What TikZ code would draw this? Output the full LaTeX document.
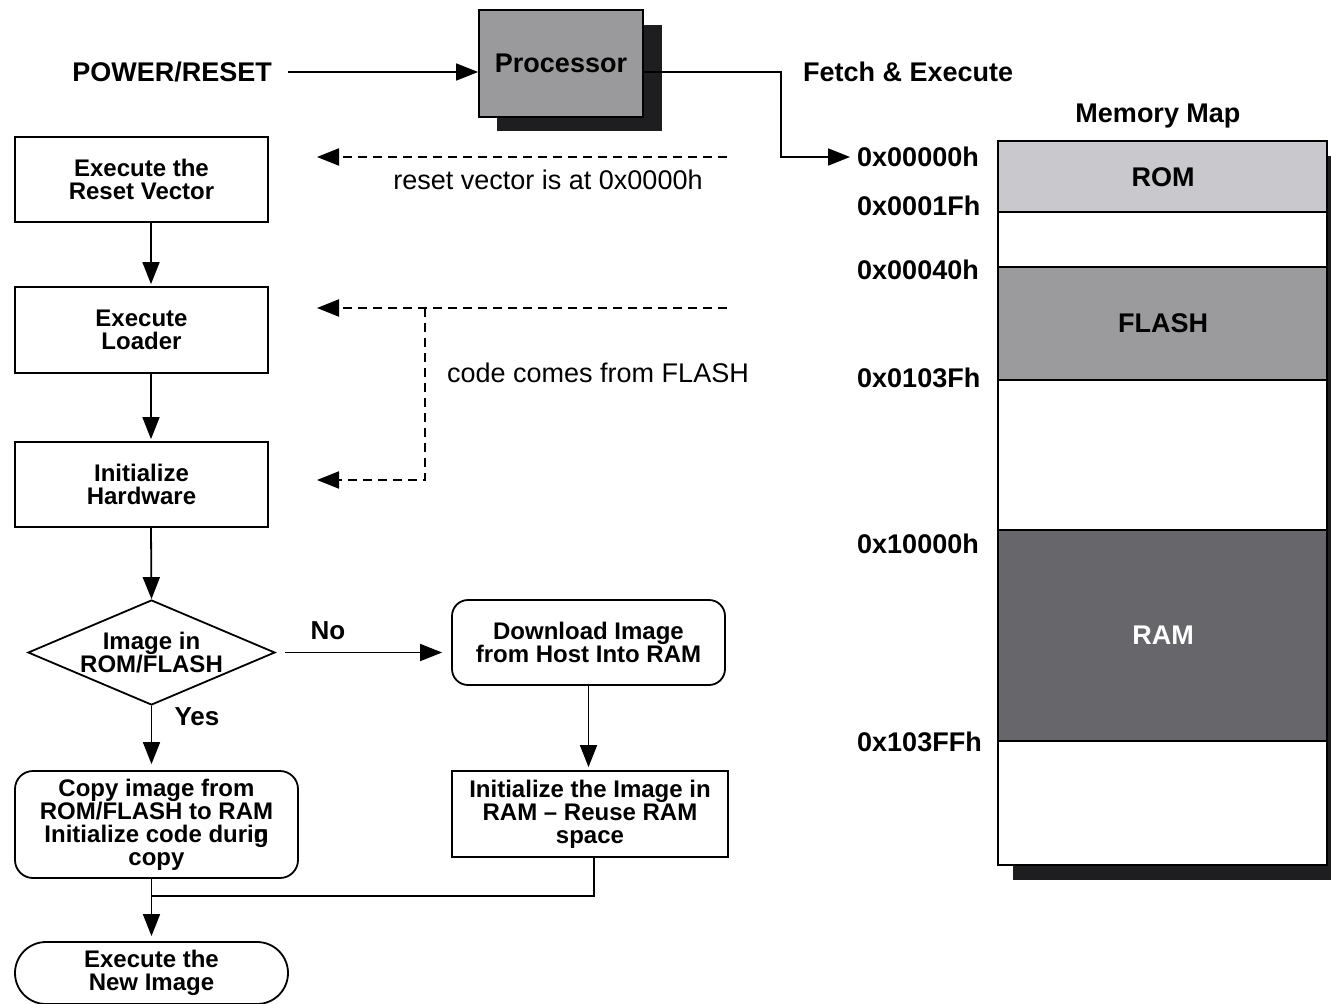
\documentclass[tikz,border=0pt]{standalone}
\usepackage{fontspec}
\setmainfont{Liberation Sans}
\usetikzlibrary{arrows.meta,shapes.geometric,calc}
\definecolor{procgray}{HTML}{9A9A9C}
\definecolor{shadowc}{HTML}{1E1E20}
\definecolor{romc}{HTML}{C8C8CD}
\definecolor{flashc}{HTML}{9B9B9E}
\definecolor{ramc}{HTML}{67666B}
\begin{document}
\begin{tikzpicture}[x=1pt,y=-1pt,
  lw/.style={line width=1.8pt},
  boxtxt/.style={font=\fontsize{24}{23}\selectfont\bfseries, align=center},
  yesno/.style={font=\fontsize{26}{26}\selectfont\bfseries, inner sep=0pt},
  bigtxt/.style={font=\fontsize{27}{27}\selectfont\bfseries, inner sep=0pt},
  plaintxt/.style={font=\fontsize{27}{27}\selectfont, inner sep=0pt},
  stepbox/.style={draw, lw, fill=white, boxtxt, inner sep=0pt},
  arr/.style={lw, -{Triangle[length=22pt,width=17pt]}},
  darr/.style={line width=2pt, dash pattern=on 9pt off 6pt, -{Triangle[length=22pt,width=17pt]}}
]
\fill[white] (0,0) rectangle (1331,1004);
\useasboundingbox (0,0) rectangle (1331,1004);

% processor block with its drop shadow
\fill[shadowc] (497,25) rectangle (662,131);
\node[draw, lw, fill=procgray, minimum width=164pt, minimum height=107pt, inner sep=0pt, bigtxt] (proc) at (561,63.5) {Processor};
\node[bigtxt, anchor=east] (pwr) at (272,72) {POWER/RESET};
\draw[arr] ([xshift=16pt]pwr.east) -- (pwr.east -| proc.west);
\node[bigtxt, anchor=west] (fetch) at (803,72) {Fetch \& Execute};

% memory map
\node[bigtxt] (mmt) at (1158,116) {Memory Map};
\fill[shadowc] (1013,156) rectangle (1345,880);
\fill[romc] (998,141) rectangle (1327,212);
\fill[white] (998,212) rectangle (1327,267);
\fill[flashc] (998,267) rectangle (1327,380);
\fill[white] (998,380) rectangle (1327,530);
\fill[ramc] (998,530) rectangle (1327,741);
\fill[white] (998,741) rectangle (1327,865);
\draw[lw] (998,141) rectangle (1327,865);
\foreach \yy in {212,267,380,530,741} \draw[lw] (998,\yy) -- (1327,\yy);
\node[bigtxt] (rom) at (1163,177) {ROM};
\node[bigtxt] (flash) at (1163,323) {FLASH};
\node[bigtxt, text=white] (ram) at (1163,635) {RAM};

\node[bigtxt, anchor=west] (a0) at (857,157) {0x00000h};
\node[bigtxt, anchor=west] (a1) at (857,206) {0x0001Fh};
\node[bigtxt, anchor=west] (a2) at (857,270) {0x00040h};
\node[bigtxt, anchor=west] (a3) at (857,378) {0x0103Fh};
\node[bigtxt, anchor=west] (a4) at (857,544) {0x10000h};
\node[bigtxt, anchor=west] (a5) at (857,742) {0x103FFh};

\draw[arr, shorten >=7pt] (proc.east |- pwr) -- ++(137,0) |- (a0.west);

% boot flow
\node[stepbox, minimum width=253pt, minimum height=85pt] (b1) at (141.5,179.5) {Execute the\\Reset Vector};
\node[stepbox, minimum width=253pt, minimum height=86pt] (b2) at (141.5,330) {Execute\\Loader};
\node[stepbox, minimum width=253pt, minimum height=85pt] (b3) at (141.5,484.5) {Initialize\\Hardware};
\draw[arr, shorten >=2pt] ([xshift=9.5pt]b1.south) -- ([xshift=9.5pt]b2.north);
\draw[arr, shorten >=2pt] ([xshift=9.5pt]b2.south) -- ([xshift=9.5pt]b3.north);

\node[draw, lw, fill=white, diamond, minimum width=247pt, minimum height=105pt, inner sep=0pt,
      label={[boxtxt]center:Image in\\ROM/FLASH}] (dec) at (151.5,652.5) {};
\draw[arr] ([xshift=9.5pt]b3.south) -- (dec.north);

\node[stepbox, rounded corners=16pt, minimum width=273pt, minimum height=85pt] (dl) at (588.5,642.5) {Download Image\\from Host Into RAM};
\node[stepbox, minimum width=276pt, minimum height=86pt] (ini) at (590,814) {Initialize the Image in\\RAM -- Reuse RAM\\space};
\node[stepbox, rounded corners=18pt, minimum width=283pt, minimum height=107pt] (cp) at (156.5,824.5) {Copy image from\\ROM/FLASH to RAM\\Initialize code duri\rlap{n}g\\copy};
\node[stepbox, rounded corners=31pt, minimum width=273pt, minimum height=62pt] (term) at (151.5,973) {Execute the\\New Image};

\draw[arr, shorten <=9pt, shorten >=9pt] (dec.east) -- (dec.east -| dl.west);
\node[yesno] (no) at (328,631) {No};
\draw[arr, shorten >=6pt] (dec.south) -- (dec.south |- cp.north);
\node[yesno] (yes) at (197,717) {Yes};
\draw[arr, shorten >=3pt] (dl.south) -- (dl.south |- ini.north);

\coordinate (mj) at (151.5,896);
\draw[lw] ([xshift=4pt]ini.south) |- (mj);
\draw[arr, shorten >=5pt] (cp.south -| mj) -- (term.north -| mj);

% dashed hints
\coordinate (d1s) at (727,157);
\coordinate (d1e) at (317,157);
\draw[darr] (d1s) -- (d1e);
\node[plaintxt] (lab1) at (548,180) {reset vector is at 0x0000h};

\coordinate (d2s) at (727,308);
\coordinate (d2e) at (317,308);
\coordinate (d2j) at (425,308);
\coordinate (d3e) at (317,480);
\draw[darr] (d2s) -- (d2e);
\draw[darr] (d2j) |- (d3e);
\node[plaintxt, anchor=west] (lab2) at (447,373) {code comes from FLASH};
\end{tikzpicture}
\end{document}
